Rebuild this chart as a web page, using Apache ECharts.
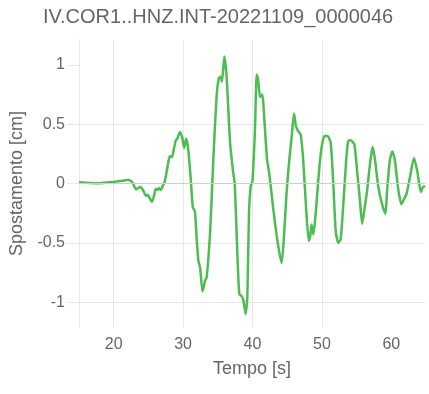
<!DOCTYPE html>
<html>
<head>
<meta charset="utf-8">
<script src="https://cdn.jsdelivr.net/npm/echarts@6/dist/echarts.min.js"></script>
<style>html,body{margin:0;padding:0;background:#fff}#c{width:429px;height:394px}</style>
</head>
<body>
<div id="c"></div>
<script>
var chartTitle = 'IV.COR1..HNZ.INT-20221109_0000046';
var xName = 'Tempo [s]';
var yName = 'Spostamento [cm]';
var xTicks = [20, 30, 40, 50, 60];
var yTicks = [-1, -0.5, 0, 0.5, 1];
var time = [15.0,16.5,18.0,19.5,20.5,21.5,22.0,22.4,22.8,23.2,23.5,23.9,24.3,24.65,24.9,25.2,25.5,25.8,26.05,26.3,26.5,26.8,27.06,27.3,27.6,27.9,28.1,28.4,28.7,28.9,29.2,29.55,29.9,30.15,30.45,30.75,31.1,31.4,31.7,31.96,32.2,32.45,32.8,33.16,33.4,33.9,34.35,34.84,35.15,35.4,35.6,35.94,36.27,36.76,37.2,37.45,37.8,38.1,38.5,38.7,39.0,39.25,39.5,39.75,40.0,40.36,40.6,40.8,41.08,41.4,41.8,42.1,42.4,43.0,43.48,43.86,44.2,44.54,44.9,45.3,45.65,45.98,46.27,46.6,46.95,47.3,47.7,48.1,48.3,48.5,48.76,49.15,49.6,49.97,50.35,50.8,51.27,51.65,52.0,52.36,52.7,53.1,53.5,53.8,54.1,54.67,55.0,55.5,55.8,56.2,56.5,56.9,57.3,57.65,58.1,58.6,59.15,59.4,59.8,60.15,60.5,61.0,61.45,61.8,62.2,62.7,63.26,63.75,64.25,64.5,64.85];
var displacement = [0.01,0.005,0.003,0.01,0.018,0.025,0.03,0.025,0.0,-0.05,-0.04,-0.03,-0.065,-0.105,-0.095,-0.125,-0.155,-0.105,-0.045,-0.055,-0.04,-0.055,-0.02,0.005,0.09,0.19,0.23,0.225,0.3,0.355,0.385,0.435,0.38,0.3,0.38,0.28,0.04,-0.2,-0.235,-0.47,-0.65,-0.71,-0.91,-0.82,-0.79,-0.4,0.2,0.75,0.89,0.9,0.86,1.07,0.9,0.35,0.1,-0.01,-0.57,-0.93,-0.955,-0.99,-1.1,-0.96,-0.23,-0.02,0.02,0.47,0.92,0.88,0.73,0.75,0.45,0.2,0.09,-0.22,-0.44,-0.58,-0.67,-0.44,-0.08,0.2,0.4,0.59,0.48,0.44,0.41,0.2,-0.19,-0.485,-0.45,-0.345,-0.43,-0.22,0.12,0.31,0.4,0.4,0.34,-0.02,-0.41,-0.5,-0.47,-0.16,0.2,0.36,0.365,0.33,0.15,-0.16,-0.34,-0.19,-0.065,0.15,0.31,0.2,-0.02,-0.16,-0.255,-0.05,0.2,0.27,0.2,-0.05,-0.175,-0.135,-0.085,0.06,0.216,0.1,-0.072,-0.036,-0.02];

var pts = time.map(function (t, i) { return [t, displacement[i]]; });
var font = '"Liberation Sans", Arial, sans-serif';
var txt = '#666';
var grid = '#e8e8e8';

var chart = echarts.init(document.getElementById('c'), null, {renderer: 'canvas'});
chart.setOption({
  animation: false,
  backgroundColor: '#fff',
  title: {
    text: chartTitle, left: 43, top: 7, padding: 0,
    textStyle: {fontFamily: font, fontSize: 20, fontWeight: 'normal', color: txt}
  },
  grid: {left: 79, right: 4, top: 40, bottom: 67, containLabel: false},
  xAxis: {
    type: 'value', min: 15, max: 64.85,
    name: xName, nameLocation: 'middle', nameGap: 33,
    nameTextStyle: {fontFamily: font, fontSize: 18, color: txt},
    axisLine: {show: true, lineStyle: {color: grid}},
    axisTick: {show: true, length: 6, customValues: xTicks, lineStyle: {color: grid}},
    axisLabel: {customValues: xTicks, margin: 10, fontFamily: font, fontSize: 16, color: txt},
    splitLine: {show: true, showMaxLine: false, lineStyle: {color: grid}}
  },
  yAxis: {
    type: 'value', min: -1.21, max: 1.21,
    name: yName, nameLocation: 'middle', nameGap: 53,
    nameTextStyle: {fontFamily: font, fontSize: 18, color: txt},
    axisLine: {show: true, lineStyle: {color: grid}},
    axisTick: {show: true, length: 12, customValues: yTicks, lineStyle: {color: grid}},
    axisLabel: {customValues: yTicks, margin: 14, fontFamily: font, fontSize: 16, color: txt},
    splitLine: {show: true, showMaxLine: false, lineStyle: {color: grid}}
  },
  series: [{
    type: 'line', data: pts, showSymbol: false, smooth: 0.2,
    lineStyle: {color: '#4cbe50', width: 2.5},
    itemStyle: {color: '#4cbe50'},
    markLine: {
      silent: true, symbol: 'none', label: {show: false},
      lineStyle: {color: '#cfcfcf', width: 1, type: 'solid'},
      data: [{yAxis: 0}]
    }
  }]
});
</script>
</body>
</html>
